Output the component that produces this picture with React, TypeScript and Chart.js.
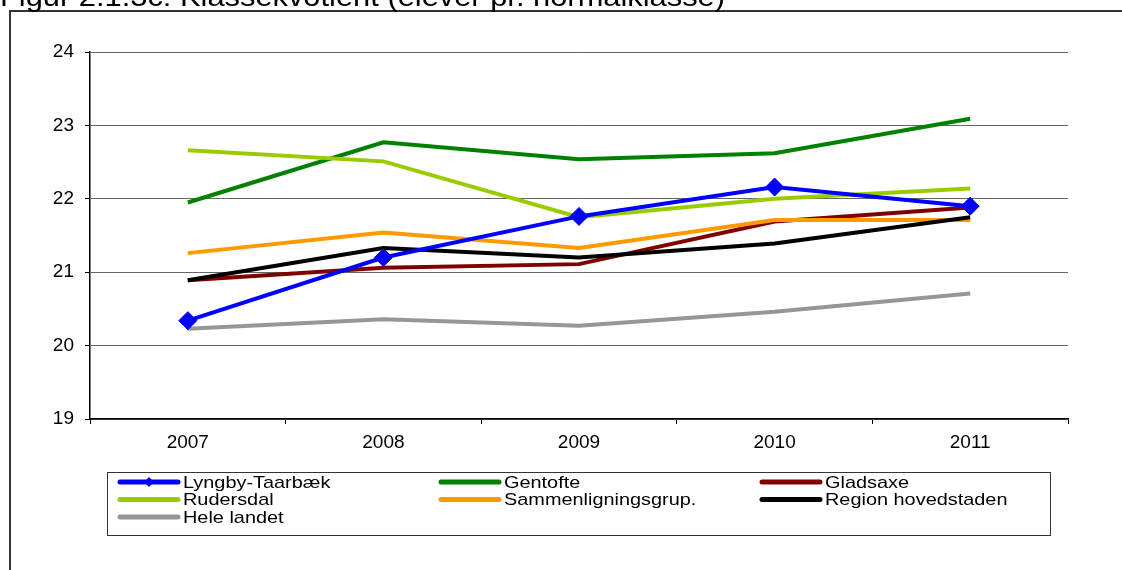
import React, { useEffect, useRef } from 'react';
import { Chart, registerables } from 'chart.js';

Chart.register(...registerables);

const titleText = 'Figur 2.1.3c: Klassekvotient (elever pr. normalklasse)';
const years = ['2007', '2008', '2009', '2010', '2011'];
const seriesNames = [
  'Lyngby-Taarbæk',
  'Gentofte',
  'Gladsaxe',
  'Rudersdal',
  'Sammenligningsgrup.',
  'Region hovedstaden',
  'Hele landet',
];
const seriesColors = ['#0000FF', '#008000', '#800000', '#99CC00', '#FF9900', '#000000', '#969696'];
const lyngby = [20.34, 21.2, 21.76, 22.16, 21.9];
const gentofte = [21.95, 22.77, 22.54, 22.62, 23.09];
const gladsaxe = [20.89, 21.06, 21.11, 21.69, 21.88];
const rudersdal = [22.66, 22.51, 21.75, 22.0, 22.14];
const sammen = [21.26, 21.54, 21.33, 21.71, 21.71];
const region = [20.89, 21.33, 21.2, 21.39, 21.75];
const hele = [20.23, 20.36, 20.27, 20.46, 20.71];
const yMin = 19;
const yMax = 24;
const yStep = 1;

const FONT = '"Liberation Sans", Arial, sans-serif';

const decorPlugin = {
  id: 'decor',
  beforeDraw(chart: any) {
    const ctx = chart.ctx;
    ctx.save();
    ctx.fillStyle = '#ffffff';
    ctx.fillRect(0, 0, chart.width, chart.height);
    // outer frame
    ctx.strokeStyle = '#333333';
    ctx.lineWidth = 2;
    ctx.beginPath();
    ctx.moveTo(10, chart.height);
    ctx.lineTo(10, 11);
    ctx.lineTo(chart.width, 11);
    ctx.stroke();
    // title (cut at the top)
    ctx.font = `27px ${FONT}`;
    const w = ctx.measureText(titleText).width;
    ctx.translate(0, 6);
    ctx.scale(725 / w, 1);
    ctx.fillStyle = '#000';
    ctx.textBaseline = 'alphabetic';
    ctx.fillText(titleText, 0, 0);
    ctx.restore();
  },
  afterDraw(chart: any) {
    const ctx = chart.ctx;
    ctx.save();
    // legend box
    ctx.strokeStyle = '#333333';
    ctx.lineWidth = 1;
    ctx.strokeRect(107.5, 472.5, 943, 63);
    const colX = [120, 441, 762];
    const rowY = [482, 499.5, 517];
    const ds = chart.data.datasets;
    ds.forEach((d: any, i: number) => {
      const col = i % 3;
      const row = Math.floor(i / 3);
      const x = colX[col];
      const y = rowY[row];
      ctx.strokeStyle = d.borderColor;
      ctx.lineWidth = 5;
      ctx.lineCap = 'round';
      ctx.beginPath();
      ctx.moveTo(x, y);
      ctx.lineTo(x + 58, y);
      ctx.stroke();
      if (d.pointRadius && d.pointRadius > 0) {
        ctx.fillStyle = d.borderColor;
        ctx.beginPath();
        const cx = x + 29;
        ctx.moveTo(cx, y - 5);
        ctx.lineTo(cx + 5, y);
        ctx.lineTo(cx, y + 5);
        ctx.lineTo(cx - 5, y);
        ctx.closePath();
        ctx.fill();
      }
      ctx.save();
      ctx.font = `17px ${FONT}`;
      ctx.fillStyle = '#000';
      ctx.textBaseline = 'middle';
      ctx.translate(x + 63, y + 1);
      ctx.scale(1.17, 1);
      ctx.fillText(d.label, 0, 0);
      ctx.restore();
    });
    ctx.restore();
  },
};

export default function App() {
  const ref = useRef<HTMLCanvasElement | null>(null);

  useEffect(() => {
    document.body.style.margin = '0';
    const canvas = ref.current;
    if (!canvas) return;
    const values = [lyngby, gentofte, gladsaxe, rudersdal, sammen, region, hele];
    const orders = [0, 6, 5, 4, 3, 2, 1];
    const datasets = values.map((v, i) => ({
      label: seriesNames[i],
      data: v,
      borderColor: seriesColors[i],
      backgroundColor: seriesColors[i],
      borderWidth: 4,
      pointRadius: i === 0 ? 9 : 0,
      pointHoverRadius: i === 0 ? 9 : 0,
      pointStyle: 'rectRot',
      pointBorderWidth: 1,
      tension: 0,
      fill: false,
      order: orders[i],
    }));
    const chart = new Chart(canvas, {
      type: 'line',
      data: { labels: years, datasets },
      options: {
        responsive: false,
        animation: false,
        devicePixelRatio: 1,
        layout: { padding: { left: 0, top: 52, right: 54, bottom: 121 } },
        plugins: { legend: { display: false }, tooltip: { enabled: false }, title: { display: false } },
        scales: {
          x: {
            type: 'category',
            offset: true,
            afterFit: (s: any) => {
              s.height = 30;
            },
            grid: {
              offset: true,
              drawOnChartArea: false,
              drawTicks: true,
              tickLength: 5,
              color: '#000',
              tickColor: '#000',
            },
            border: { display: true, color: '#000', width: 1.5 },
            ticks: { font: { family: FONT, size: 19 }, color: '#000', padding: 7, maxRotation: 0 },
          },
          y: {
            min: yMin,
            max: yMax,
            afterFit: (s: any) => {
              s.width = 90;
            },
            ticks: { stepSize: yStep, font: { family: FONT, size: 19 }, color: '#000', padding: 11 },
            grid: { color: '#666666', lineWidth: 1, tickLength: 5, tickColor: '#000', drawTicks: true },
            border: { display: true, color: '#000', width: 1.5 },
          },
        },
      },
      plugins: [decorPlugin],
    });
    return () => chart.destroy();
  }, []);

  return (
    <div style={{ width: 1122, height: 570 }}>
      <canvas ref={ref} width={1122} height={570} style={{ display: 'block' }} />
    </div>
  );
}
